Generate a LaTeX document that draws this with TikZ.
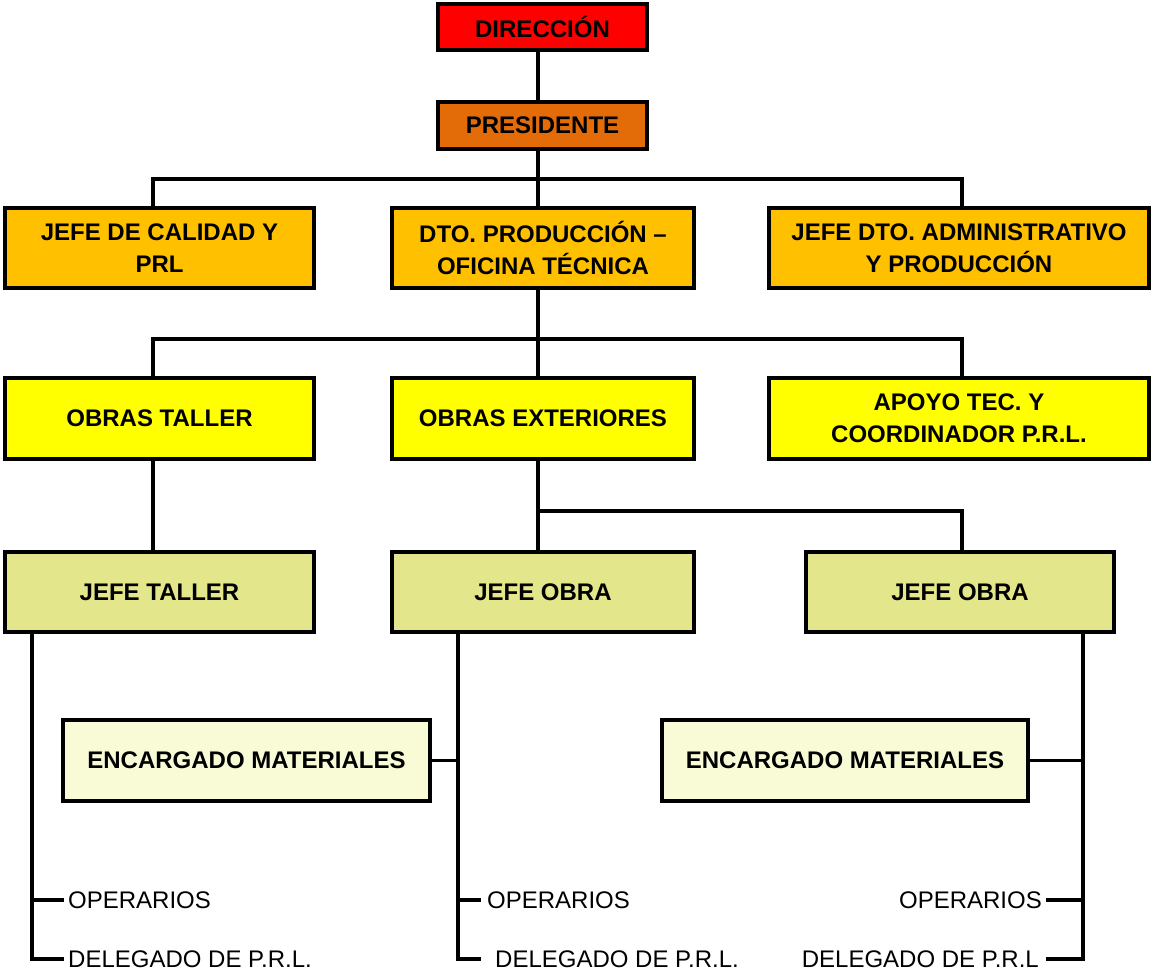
\documentclass[tikz,border=0pt]{standalone}
\usepackage{fontspec}
\setmainfont{Liberation Sans}
\definecolor{cRed}{HTML}{FF0000}
\definecolor{cOrange}{HTML}{E36C09}
\definecolor{cGold}{HTML}{FFC000}
\definecolor{cYellow}{HTML}{FFFF00}
\definecolor{cOlive}{HTML}{E3E68A}
\definecolor{cCream}{HTML}{F9FAD6}
\begin{document}
\begin{tikzpicture}[x=1pt,y=-1pt,
  box/.style={draw=black, line width=3.3pt, rectangle, inner sep=0pt, align=center,
    font=\bfseries\fontsize{24}{32}\selectfont},
  conn/.style={line width=3.3pt, line cap=rect},
  plain/.style={inner sep=0pt, font=\fontsize{24}{28}\selectfont}]
\useasboundingbox (0,0) rectangle (1151,971);
% nodes
\node[box, fill=cRed, minimum width=209pt, minimum height=46pt] (dir) at (542.5,27) {DIRECCIÓN};
\node[box, fill=cOrange, minimum width=209pt, minimum height=47pt] (pres) at (542.5,125.5) {PRESIDENTE};
\node[box, fill=cGold, minimum width=309pt, minimum height=80pt] (cal) at (159.5,248) {JEFE DE CALIDAD Y\\PRL};
\node[box, fill=cGold, minimum width=302pt, minimum height=80pt] (dto) at (543,248) {DTO. PRODUCCIÓN –\\OFICINA TÉCNICA};
\node[box, fill=cGold, minimum width=380pt, minimum height=80pt] (adm) at (959,248) {JEFE DTO. ADMINISTRATIVO\\Y PRODUCCIÓN};
\node[box, fill=cYellow, minimum width=309pt, minimum height=81pt] (otal) at (159.5,418.5) {OBRAS TALLER};
\node[box, fill=cYellow, minimum width=302pt, minimum height=81pt] (oext) at (543,418.5) {OBRAS EXTERIORES};
\node[box, fill=cYellow, minimum width=380pt, minimum height=81pt] (apo) at (959,418.5) {APOYO TEC. Y\\COORDINADOR P.R.L.};
\node[box, fill=cOlive, minimum width=309pt, minimum height=80pt] (jtal) at (159.5,592) {JEFE TALLER};
\node[box, fill=cOlive, minimum width=302pt, minimum height=80pt] (job1) at (543,592) {JEFE OBRA};
\node[box, fill=cOlive, minimum width=308pt, minimum height=80pt] (job2) at (960,592) {JEFE OBRA};
\node[box, fill=cCream, minimum width=367pt, minimum height=81pt] (enc1) at (246.5,760.5) {ENCARGADO MATERIALES};
\node[box, fill=cCream, minimum width=366pt, minimum height=81pt] (enc2) at (845,760.5) {ENCARGADO MATERIALES};
% plain labels
\node[plain, anchor=west] (op1) at (68,900) {OPERARIOS};
\node[plain, anchor=west] (de1) at (68,959) {DELEGADO DE P.R.L.};
\node[plain, anchor=west] (op2) at (487,900) {OPERARIOS};
\node[plain, anchor=west] (de2) at (495,959) {DELEGADO DE P.R.L.};
\node[plain, anchor=east] (op3) at (1042,900) {OPERARIOS};
\node[plain, anchor=east] (de3) at (1039,959) {DELEGADO DE P.R.L};
% helper coordinates
\coordinate (b1) at (538,179);
\coordinate (b2) at (538,339);
\coordinate (b3) at (538,511);
\coordinate (tA) at (32,959);
\coordinate (tB) at (458,959);
\coordinate (tC) at (1083,959);
% connectors
\draw[conn] ([xshift=-4.5pt]dir.south) -- ([xshift=-4.5pt]pres.north);
\draw[conn] ([xshift=-4.5pt]pres.south) -- (b1);
\draw[conn] ([xshift=-6.5pt]cal.north) |- (b1) -| ([xshift=3pt]adm.north);
\draw[conn] (b1) -- ([xshift=-5pt]dto.north);
\draw[conn] ([xshift=-5pt]dto.south) -- (b2);
\draw[conn] ([xshift=-6.5pt]otal.north) |- (b2) -| ([xshift=3pt]apo.north);
\draw[conn] (b2) -- ([xshift=-5pt]oext.north);
\draw[conn] ([xshift=-6.5pt]otal.south) -- ([xshift=-6.5pt]jtal.north);
\draw[conn] ([xshift=-5pt]oext.south) -- ([xshift=-5pt]job1.north);
\draw[conn] (b3) -| ([xshift=2pt]job2.north);
% bottom trees
\draw[conn] ([xshift=-127.5pt]jtal.south) -- (tA) -- ([xshift=-6pt]de1.west);
\draw[conn] (tA |- op1) -- ([xshift=-6pt]op1.west);
\draw[conn] ([xshift=-85pt]job1.south) -- (tB) -- ([xshift=-16pt]de2.west);
\draw[conn] (tB |- op2) -- ([xshift=-8pt]op2.west);
\draw[conn] (enc1.east) -- (enc1.east -| tB);
\draw[conn] ([xshift=123pt]job2.south) -- (tC) -- ([xshift=9pt]de3.east);
\draw[conn] (tC |- op3) -- ([xshift=6pt]op3.east);
\draw[conn] (enc2.east) -- (enc2.east -| tC);
\end{tikzpicture}
\end{document}
